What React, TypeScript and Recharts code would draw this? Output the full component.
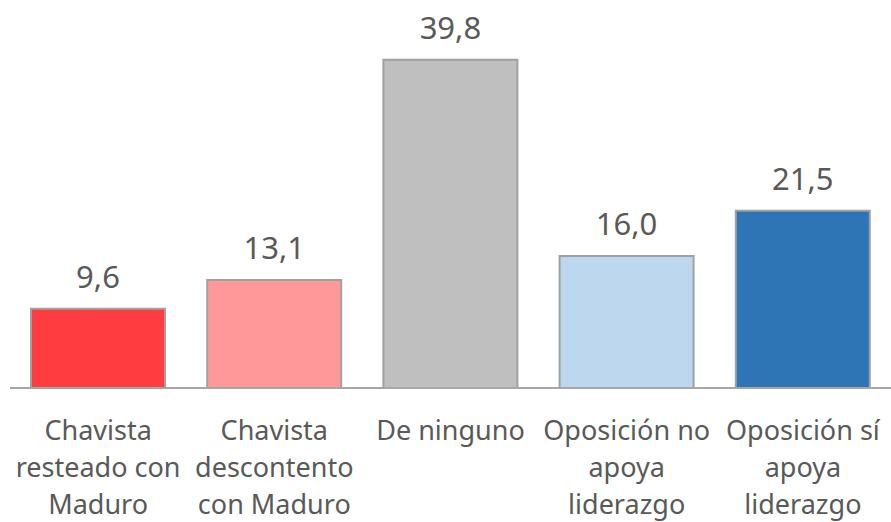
import React from "react";
import { BarChart, Bar, XAxis, YAxis, LabelList, Cell } from "recharts";

const categories = [
  "Chavista\nresteado con\nMaduro",
  "Chavista\ndescontento\ncon Maduro",
  "De ninguno",
  "Oposición no\napoya\nliderazgo",
  "Oposición sí\napoya\nliderazgo",
];
const values = [9.6, 13.1, 39.8, 16.0, 21.5];
const colors = ["#FF3D40", "#FF9899", "#BFBFBF", "#BDD7EE", "#2E75B6"];

const data = categories.map((name, i) => ({ name, value: values[i], color: colors[i] }));

const FONT = "'Noto Sans', sans-serif";
const TEXT = "#595959";

const CategoryTick = ({ x, y, payload }: any) => {
  const lines = String(payload.value).split("\n");
  return (
    <text x={x} y={y} textAnchor="middle" fill={TEXT} fontSize={27} fontFamily={FONT}>
      {lines.map((line, i) => (
        <tspan key={i} x={x} y={y + 52 + i * 37}>
          {line}
        </tspan>
      ))}
    </text>
  );
};

const ValueLabel = ({ x, y, width, value }: any) => (
  <text
    x={x + width / 2}
    y={y - 21}
    textAnchor="middle"
    fill={TEXT}
    fontSize={31}
    fontFamily={FONT}
  >
    {Number(value).toFixed(1).replace(".", ",")}
  </text>
);

export default function App() {
  return (
    <div style={{ position: "absolute", left: 0, top: 0, background: "#fff" }}>
      <BarChart
        width={891}
        height={522}
        data={data}
        margin={{ top: 58, right: 0, left: 10, bottom: 104 }}
      >
        <XAxis
          dataKey="name"
          interval={0}
          height={30}
          tickLine={false}
          tickSize={0}
          tickMargin={0}
          axisLine={{ stroke: "#A6A6A6", strokeWidth: 2 }}
          tick={<CategoryTick />}
        />
        <YAxis hide domain={[0, 40]} />
        <Bar dataKey="value" barSize={134} stroke="#A0A0A0" strokeWidth={2} isAnimationActive={false}>
          {data.map((d, i) => (
            <Cell key={`cell-${i}`} fill={d.color} />
          ))}
          <LabelList dataKey="value" content={<ValueLabel />} />
        </Bar>
      </BarChart>
    </div>
  );
}
